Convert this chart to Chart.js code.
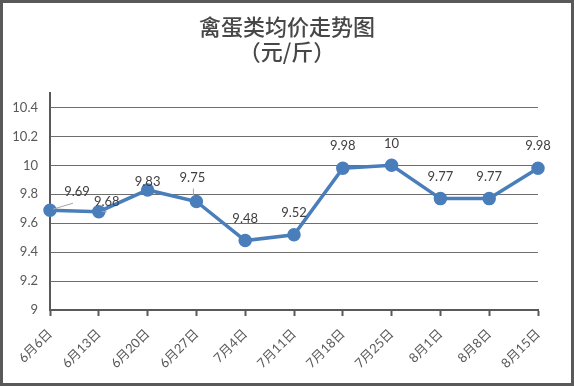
<!DOCTYPE html>
<html><head><meta charset="utf-8">
<script src="https://cdn.jsdelivr.net/npm/chart.js@4/dist/chart.umd.min.js"></script>
<style>html,body{margin:0;padding:0;background:#fff}#wrap{width:574px;height:386px}</style>
</head><body><div id="wrap"><canvas id="c" width="574" height="386"></canvas></div>
<script>
const titleLines = ['禽蛋类均价走势图', '（元/斤）'];
const categories = ['6月6日','6月13日','6月20日','6月27日','7月4日','7月11日','7月18日','7月25日','8月1日','8月8日','8月15日'];
const prices = [9.69, 9.68, 9.83, 9.75, 9.48, 9.52, 9.98, 10, 9.77, 9.77, 9.98];
const yTickValues = [9, 9.2, 9.4, 9.6, 9.8, 10, 10.2, 10.4];

const FONT = "Lato, 'Noto Sans CJK SC', sans-serif";
const GRAY = '#595959';

const frame = {
  id: 'frame',
  beforeDraw(chart) {
    const c = chart.ctx;
    c.save();
    c.fillStyle = '#fff';
    c.fillRect(0, 0, chart.width, chart.height);
    c.restore();
  },
  afterDraw(chart) {
    const c = chart.ctx;
    c.save();
    c.strokeStyle = GRAY;
    c.lineWidth = 3;
    c.strokeRect(1.5, 1.5, chart.width - 3, chart.height - 3);
    c.restore();
  }
};

const labelOpts = {
  offsets: {0: [27, -18], 1: [8, -10], 2: [0, -8], 3: [-4, -24]},
  leaders: {0: [[3, -1], [23, -7]], 1: [[3, 0], [8, 0]], 3: [[-3, -6], [-3, -13]]},
  defaultOffset: [0, -22]
};

const dataLabels = {
  id: 'dataLabels',
  afterDatasetsDraw(chart) {
    const c = chart.ctx;
    const meta = chart.getDatasetMeta(0);
    c.save();
    meta.data.forEach((pt, i) => {
      const ld = labelOpts.leaders[i];
      if (ld) {
        c.strokeStyle = '#a6a6a6';
        c.lineWidth = 1;
        c.beginPath();
        c.moveTo(pt.x + ld[0][0], pt.y + ld[0][1]);
        c.lineTo(pt.x + ld[1][0], pt.y + ld[1][1]);
        c.stroke();
      }
    });
    c.fillStyle = '#404040';
    c.font = '13px ' + FONT;
    c.textAlign = 'center';
    c.textBaseline = 'middle';
    meta.data.forEach((pt, i) => {
      const o = labelOpts.offsets[i] || labelOpts.defaultOffset;
      c.fillText(String(prices[i]), pt.x + o[0], pt.y + o[1]);
    });
    c.restore();
  }
};

new Chart(document.getElementById('c'), {
  type: 'line',
  data: {
    labels: categories,
    datasets: [{
      data: prices,
      borderColor: '#4a7ebb',
      backgroundColor: '#4a7ebb',
      borderWidth: 3.5,
      pointRadius: 5,
      pointBackgroundColor: '#4a7ebb',
      pointBorderColor: '#4a7ebb',
      tension: 0,
      clip: false
    }]
  },
  options: {
    responsive: false,
    animation: false,
    devicePixelRatio: 1,
    layout: {padding: {left: 0, right: 0, top: 0, bottom: 0}},
    plugins: {
      legend: {display: false},
      tooltip: {enabled: false},
      title: {
        display: true,
        text: titleLines,
        color: '#474747',
        font: {family: "'Noto Sans CJK SC', sans-serif", size: 22, weight: 500, lineHeight: '25px'},
        padding: {top: 14, bottom: 29}
      }
    },
    scales: {
      x: {
        offset: false,
        grid: {drawOnChartArea: false, drawTicks: true, tickLength: 6, color: GRAY, tickWidth: 2},
        border: {display: true, color: GRAY, width: 2},
        ticks: {color: GRAY, font: {family: FONT, size: 13}, maxRotation: 45, minRotation: 45, autoSkip: false, padding: 10},
        afterFit(s) { s.height = 76; }
      },
      y: {
        min: 9, max: 10.5,
        afterBuildTicks(s) { s.ticks = yTickValues.map(v => ({value: v})); },
        grid: {color: '#6e6e6e', lineWidth: 1, drawTicks: false},
        border: {display: true, color: GRAY, width: 2},
        ticks: {color: GRAY, font: {family: FONT, size: 13}, padding: 12, callback: v => String(+Number(v).toFixed(1))},
        afterFit(s) { s.width = 50; }
      },
      yRight: {
        position: 'right',
        min: 9, max: 10.5,
        grid: {display: false, drawOnChartArea: false},
        border: {display: false},
        ticks: {display: false},
        afterFit(s) { s.width = 36; }
      }
    }
  },
  plugins: [frame, dataLabels]
});
</script>
</body></html>
